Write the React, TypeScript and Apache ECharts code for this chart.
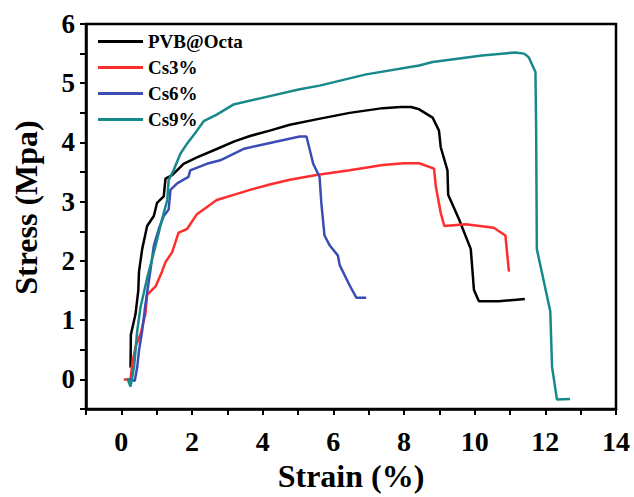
import React, { useEffect, useRef } from "react";
import * as echarts from "echarts";

const seriesNames = ["PVB@Octa", "Cs3%", "Cs6%", "Cs9%"];
const seriesColors = ["#000000", "#ff2d2d", "#3b4db4", "#17898a"];

const pvbOcta = [
  [0.26, 0.2], [0.27, 0.76], [0.4, 1.1], [0.48, 1.5], [0.5, 1.82], [0.59, 2.2],
  [0.68, 2.45], [0.73, 2.59], [0.92, 2.76], [1.01, 2.98], [1.2, 3.09], [1.25, 3.39],
  [1.44, 3.45], [1.76, 3.64], [2.14, 3.75], [2.7, 3.89], [3.2, 4.02], [3.64, 4.11],
  [4.2, 4.2], [4.77, 4.3], [5.52, 4.39], [6.46, 4.5], [7.4, 4.58], [7.9, 4.6],
  [8.2, 4.6], [8.43, 4.56], [8.81, 4.42], [8.99, 4.2], [9.04, 3.92], [9.23, 3.53],
  [9.25, 3.12], [9.56, 2.7], [9.89, 2.2], [9.98, 1.51], [10.12, 1.32], [10.68, 1.32],
  [11.42, 1.36],
];

const cs3 = [
  [0.07, 0], [0.26, 0], [0.31, 0.27], [0.4, 0.55], [0.54, 0.76], [0.68, 1.1],
  [0.73, 1.43], [0.97, 1.57], [1.15, 1.82], [1.25, 1.98], [1.44, 2.15], [1.62, 2.48],
  [1.86, 2.54], [2.14, 2.79], [2.7, 3.03], [3.2, 3.12], [3.64, 3.2], [4.2, 3.29],
  [4.77, 3.37], [5.52, 3.45], [6.46, 3.53], [7.4, 3.62], [8.0, 3.65], [8.43, 3.65],
  [8.85, 3.56], [8.9, 3.26], [9.04, 2.81], [9.14, 2.59], [9.75, 2.62], [10.54, 2.56],
  [10.87, 2.43], [10.97, 1.82],
];

const cs6 = [
  [0.22, 0], [0.38, -0.02], [0.45, 0.21], [0.5, 0.49], [0.59, 0.82], [0.68, 1.26],
  [0.83, 1.87], [0.92, 2.26], [1.06, 2.54], [1.2, 2.76], [1.34, 2.87], [1.39, 3.2],
  [1.58, 3.31], [1.9, 3.42], [1.95, 3.53], [2.42, 3.64], [2.8, 3.7], [3.45, 3.89],
  [4.11, 3.98], [5.05, 4.1], [5.24, 4.1], [5.43, 3.64], [5.61, 3.42], [5.66, 2.98],
  [5.75, 2.43], [5.9, 2.26], [6.13, 2.09], [6.18, 1.93], [6.46, 1.59], [6.65, 1.38],
  [6.93, 1.38],
];

const cs9 = [
  [0.17, 0.02], [0.26, -0.12], [0.36, 0.21], [0.45, 0.82], [0.54, 1.21], [0.73, 1.71],
  [0.97, 2.26], [1.15, 2.7], [1.3, 3.03], [1.34, 3.37], [1.48, 3.53], [1.67, 3.81],
  [1.86, 3.98], [2.14, 4.2], [2.33, 4.36], [2.7, 4.47], [3.17, 4.64], [4.11, 4.77],
  [5.05, 4.9], [5.61, 4.96], [6.93, 5.15], [8.43, 5.3], [8.81, 5.36], [10.21, 5.47],
  [11.15, 5.52], [11.4, 5.5], [11.53, 5.44], [11.72, 5.19], [11.74, 4.2], [11.76, 2.2],
  [12.14, 1.15], [12.19, 0.21], [12.33, -0.34], [12.7, -0.33],
];

const seriesData = [pvbOcta, cs3, cs6, cs9];

const FONT = "'Liberation Serif', 'Times New Roman', serif";

export default function App() {
  const ref = useRef<HTMLDivElement>(null);
  useEffect(() => {
    if (!ref.current) return;
    const chart = echarts.init(ref.current, undefined, { renderer: "svg" });
    chart.setOption({
      animation: false,
      backgroundColor: "#ffffff",
      grid: {
        left: 86,
        top: 24,
        right: 18,
        bottom: 82,
        show: true,
        borderColor: "#000",
        borderWidth: 2.5,
      },
      legend: {
        orient: "vertical",
        left: 93,
        top: 27,
        icon: "rect",
        itemWidth: 45,
        itemHeight: 3,
        itemGap: 7,
        data: seriesNames,
        textStyle: {
          fontFamily: FONT,
          fontWeight: "bold",
          fontSize: 19,
          lineHeight: 19,
          color: "#000",
        },
      },
      xAxis: {
        type: "value",
        min: -1,
        max: 14,
        interval: 1,
        name: "Strain (%)",
        nameLocation: "middle",
        nameGap: 49,
        nameTextStyle: { fontFamily: FONT, fontWeight: "bold", fontSize: 32, color: "#000" },
        axisLine: { show: true, onZero: false, lineStyle: { color: "#000", width: 2.5 } },
        axisTick: { show: true, inside: false, length: 6, lineStyle: { color: "#000", width: 2 } },
        axisLabel: {
          margin: 18,
          fontFamily: FONT,
          fontWeight: "bold",
          fontSize: 28,
          color: "#000",
          formatter: (v: number) => (Math.round(v) % 2 === 0 ? String(v) : ""),
        },
        splitLine: { show: false },
      },
      yAxis: {
        type: "value",
        min: -0.5,
        max: 6,
        interval: 0.5,
        name: "Stress (Mpa)",
        nameLocation: "middle",
        nameGap: 44,
        nameTextStyle: {
          fontFamily: FONT,
          fontWeight: "bold",
          fontSize: 32,
          color: "#000",
          padding: [0, 0, 0, 18],
        },
        axisLine: { show: true, onZero: false, lineStyle: { color: "#000", width: 2.5 } },
        axisTick: { show: true, inside: false, length: 6, lineStyle: { color: "#000", width: 2 } },
        axisLabel: {
          margin: 11,
          fontFamily: FONT,
          fontWeight: "bold",
          fontSize: 27,
          color: "#000",
          formatter: (v: number) => (Math.abs(v - Math.round(v)) < 1e-6 ? String(v) : ""),
        },
        splitLine: { show: false },
      },
      series: seriesNames.map((name, i) => ({
        name,
        type: "line",
        data: seriesData[i],
        symbol: "none",
        showSymbol: false,
        color: seriesColors[i],
        lineStyle: { width: 2.5, color: seriesColors[i] },
        z: 2 + i,
      })),
    });
    return () => chart.dispose();
  }, []);
  return (
    <div
      ref={ref}
      style={{ position: "fixed", left: 0, top: 0, width: 634, height: 497, background: "#fff" }}
    />
  );
}
